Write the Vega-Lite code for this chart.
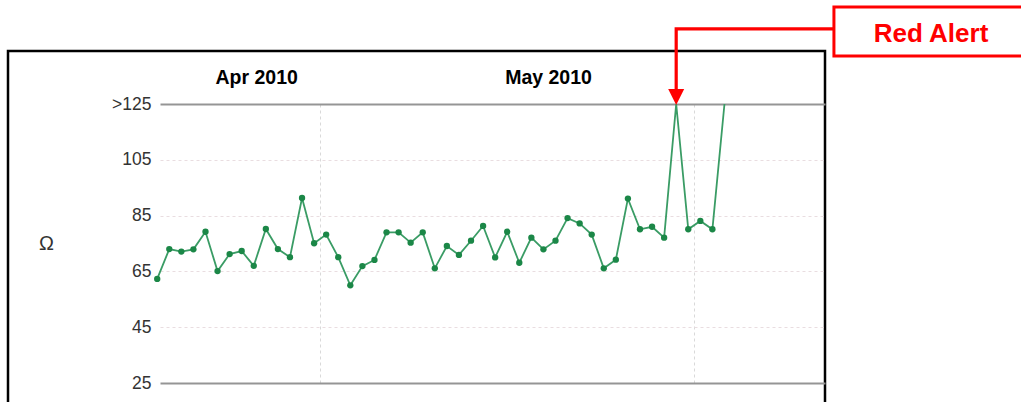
{
  "$schema": "https://vega.github.io/schema/vega-lite/v6.json",
  "width": 817,
  "height": 351,
  "autosize": "none",
  "padding": {"left": 8, "top": 51, "right": 196, "bottom": 0},
  "background": "white",
  "config": {
    "view": {"stroke": "#000000", "strokeWidth": 2.5, "strokeDash": [1168, 817, 420]},
    "font": "Liberation Sans"
  },
  "datasets": {
    "series": [
      {"date": "2010-04-17T12:00", "value": 62.3},
      {"date": "2010-04-18T12:00", "value": 73.0},
      {"date": "2010-04-19T12:00", "value": 72.1},
      {"date": "2010-04-20T12:00", "value": 72.9},
      {"date": "2010-04-21T12:00", "value": 79.2},
      {"date": "2010-04-22T12:00", "value": 65.1},
      {"date": "2010-04-23T12:00", "value": 71.2},
      {"date": "2010-04-24T12:00", "value": 72.3},
      {"date": "2010-04-25T12:00", "value": 67.0},
      {"date": "2010-04-26T12:00", "value": 80.2},
      {"date": "2010-04-27T12:00", "value": 73.0},
      {"date": "2010-04-28T12:00", "value": 70.1},
      {"date": "2010-04-29T12:00", "value": 91.3},
      {"date": "2010-04-30T12:00", "value": 75.1},
      {"date": "2010-05-01T12:00", "value": 78.2},
      {"date": "2010-05-02T12:00", "value": 70.1},
      {"date": "2010-05-03T12:00", "value": 60.0},
      {"date": "2010-05-04T12:00", "value": 66.9},
      {"date": "2010-05-05T12:00", "value": 69.1},
      {"date": "2010-05-06T12:00", "value": 79.0},
      {"date": "2010-05-07T12:00", "value": 79.0},
      {"date": "2010-05-08T12:00", "value": 75.3},
      {"date": "2010-05-09T12:00", "value": 79.0},
      {"date": "2010-05-10T12:00", "value": 66.1},
      {"date": "2010-05-11T12:00", "value": 74.1},
      {"date": "2010-05-12T12:00", "value": 70.9},
      {"date": "2010-05-13T12:00", "value": 76.0},
      {"date": "2010-05-14T12:00", "value": 81.3},
      {"date": "2010-05-15T12:00", "value": 70.0},
      {"date": "2010-05-16T12:00", "value": 79.2},
      {"date": "2010-05-17T12:00", "value": 68.1},
      {"date": "2010-05-18T12:00", "value": 77.1},
      {"date": "2010-05-19T12:00", "value": 72.9},
      {"date": "2010-05-20T12:00", "value": 76.0},
      {"date": "2010-05-21T12:00", "value": 84.1},
      {"date": "2010-05-22T12:00", "value": 82.2},
      {"date": "2010-05-23T12:00", "value": 78.2},
      {"date": "2010-05-24T12:00", "value": 66.1},
      {"date": "2010-05-25T12:00", "value": 69.2},
      {"date": "2010-05-26T12:00", "value": 91.1},
      {"date": "2010-05-27T12:00", "value": 80.1},
      {"date": "2010-05-28T12:00", "value": 81.0},
      {"date": "2010-05-29T12:00", "value": 77.1},
      {"date": "2010-05-30T12:00", "value": 125},
      {"date": "2010-05-31T12:00", "value": 80.1},
      {"date": "2010-06-01T12:00", "value": 83.1},
      {"date": "2010-06-02T12:00", "value": 80.1},
      {"date": "2010-06-03T12:00", "value": 125}
    ],
    "box": [
      {"date": "2010-06-12T13:40", "date2": "2010-06-28T12:00", "value": 159.8, "value2": 142.2, "label": "Red Alert", "labelDate": "2010-06-20T14:40", "labelValue": 150.2}
    ],
    "arrow": [
      {"seq": 1, "date": "2010-06-12T13:40", "value": 151.9},
      {"seq": 2, "date": "2010-05-30T12:00", "value": 151.9},
      {"seq": 3, "date": "2010-05-30T12:00", "value": 129}
    ],
    "arrowhead": [
      {"date": "2010-05-30T12:00", "value": 127.5}
    ]
  },
  "encoding": {
    "x": {
      "field": "date",
      "type": "temporal",
      "scale": {
        "domain": [
          {"year": 2010, "month": 4, "date": 17, "hours": 17, "minutes": 34},
          {"year": 2010, "month": 6, "date": 11, "hours": 19, "minutes": 54}
        ],
        "range": [152, 817],
        "nice": false
      },
      "axis": {
        "orient": "top",
        "offset": -26,
        "title": null,
        "values": [
          {"year": 2010, "month": 4, "date": 25, "hours": 16, "minutes": 48},
          {"year": 2010, "month": 5, "date": 1},
          {"year": 2010, "month": 5, "date": 19, "hours": 21, "minutes": 7},
          {"year": 2010, "month": 6, "date": 1}
        ],
        "labelExpr": "hours(datum.value) == 0 && date(datum.value) == 1 ? '' : timeFormat(datum.value, '%b %Y')",
        "labelFont": "Liberation Sans",
        "labelFontSize": 19.5,
        "labelFontWeight": "bold",
        "labelColor": "#000000",
        "labelBaseline": "middle",
        "labelPadding": 0,
        "labelOverlap": false,
        "labelFlush": false,
        "labelBound": false,
        "ticks": false,
        "tickSize": 0,
        "domain": false,
        "grid": true,
        "gridColor": "#d9d9d9",
        "gridDash": [3, 3],
        "gridWidth": 1,
        "gridOpacity": {"condition": {"test": "hours(datum.value) == 0 && date(datum.value) == 1", "value": 1}, "value": 0}
      }
    },
    "y": {
      "field": "value",
      "type": "quantitative",
      "scale": {"domain": [25, 125], "range": [332, 53], "nice": false, "zero": false},
      "axis": {
        "orient": "left",
        "offset": -150,
        "title": "Ω",
        "titleAngle": 0,
        "titleX": -112,
        "titleAlign": "center",
        "titleBaseline": "middle",
        "titleFont": "Liberation Sans",
        "titleFontSize": 20,
        "titleFontWeight": "normal",
        "titleColor": "#333333",
        "values": [25, 45, 65, 85, 105, 125],
        "labelExpr": "datum.value == 125 ? '>125' : datum.label",
        "labelFont": "Liberation Sans",
        "labelFontSize": 17.5,
        "labelColor": "#333333",
        "labelPadding": 7,
        "ticks": false,
        "tickSize": 0,
        "domain": false,
        "grid": true,
        "gridColor": {"condition": {"test": "datum.value == 125 || datum.value == 25", "value": "#959595"}, "value": "#e9dde0"},
        "gridDash": {"condition": {"test": "datum.value == 125 || datum.value == 25", "value": []}, "value": [3, 3]},
        "gridWidth": {"condition": {"test": "datum.value == 125 || datum.value == 25", "value": 1.8}, "value": 1}
      }
    }
  },
  "layer": [
    {
      "data": {"name": "series"},
      "mark": {"type": "line", "color": "#3a9c65", "strokeWidth": 1.8}
    },
    {
      "data": {"name": "series"},
      "transform": [{"filter": "datum.value < 125"}],
      "mark": {"type": "point", "filled": true, "opacity": 1, "size": 40, "color": "#1b8747"}
    },
    {
      "data": {"name": "box"},
      "mark": {"type": "rect", "fill": "#ffffff", "stroke": "#ff0000", "strokeWidth": 3},
      "encoding": {
        "x2": {"field": "date2"},
        "y2": {"field": "value2"}
      }
    },
    {
      "data": {"name": "box"},
      "mark": {"type": "text", "color": "#ff0000", "font": "Liberation Sans", "fontSize": 26, "fontWeight": "bold", "align": "center", "baseline": "middle"},
      "encoding": {
        "x": {"field": "labelDate", "type": "temporal"},
        "y": {"field": "labelValue", "type": "quantitative"},
        "text": {"field": "label"}
      }
    },
    {
      "data": {"name": "arrow"},
      "mark": {"type": "line", "color": "#ff0000", "strokeWidth": 3.2, "strokeJoin": "miter"},
      "encoding": {"order": {"field": "seq", "type": "quantitative"}}
    },
    {
      "data": {"name": "arrowhead"},
      "mark": {"type": "point", "filled": true, "opacity": 1, "color": "#ff0000", "shape": "M-1,-1L1,-1L0,1Z", "size": 256}
    }
  ]
}
